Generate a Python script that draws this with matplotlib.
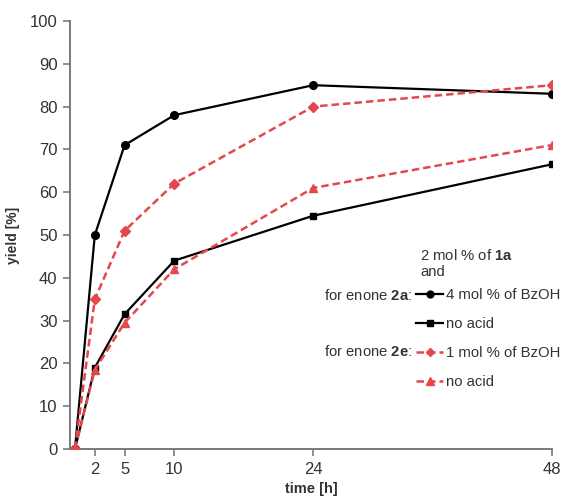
import matplotlib
matplotlib.use("Agg")
import matplotlib.pyplot as plt

plt.rcParams["font.family"] = ["Liberation Sans", "DejaVu Sans"]
plt.rcParams["mathtext.fontset"] = "custom"
plt.rcParams["mathtext.rm"] = "Liberation Sans"
plt.rcParams["mathtext.bf"] = "Liberation Sans:bold"

# data
time_h = [0, 2, 5, 10, 24, 48]
yield_2a_bzoh = [0, 50, 71, 78, 85, 83]
yield_2a_none = [0, 19, 31.5, 44, 54.5, 66.5]
yield_2e_bzoh = [0, 35, 51, 62, 80, 85]
yield_2e_none = [0, 18.5, 29.5, 42, 61, 71]

x_ticks = [2, 5, 10, 24, 48]
y_ticks = list(range(0, 101, 10))
legend_labels = ["4 mol % of BzOH", "no acid", "1 mol % of BzOH", "no acid"]

RED = "#e4474c"
AXIS_GRAY = "#7a7a7a"
TEXT = "#333333"

fig = plt.figure(figsize=(5.66, 4.99), dpi=100)
ax = fig.add_axes([70 / 566, 50 / 499, 482 / 566, 428 / 499])

l1, = ax.plot(time_h, yield_2a_bzoh, color="black", lw=1.6, marker="o", ms=5.5, zorder=3)
l2, = ax.plot(time_h, yield_2a_none, color="black", lw=1.6, marker="s", ms=5, zorder=3)
l3, = ax.plot(time_h, yield_2e_bzoh, color=RED, lw=1.8, ls=(0, (3, 1.6)), marker="D", ms=5, zorder=4)
l4, = ax.plot(time_h, yield_2e_none, color=RED, lw=1.8, ls=(0, (3, 1.6)), marker="^", ms=6, zorder=4)

ax.set_xlim(-0.5, 48.05)
ax.set_ylim(0, 100)
ax.set_xticks(x_ticks)
ax.set_yticks(y_ticks)
ax.tick_params(axis="both", direction="out", length=5, width=1.2, color=AXIS_GRAY,
               labelsize=12, labelcolor=TEXT, pad=4)
for side in ["top", "right"]:
    ax.spines[side].set_visible(False)
for side in ["left", "bottom"]:
    ax.spines[side].set_color(AXIS_GRAY)
    ax.spines[side].set_linewidth(1.4)

ax.set_xlabel("time [h]", fontsize=10.5, fontweight="bold", color=TEXT, labelpad=4)
ax.set_ylabel("yield [%]", fontsize=10, fontweight="bold", color=TEXT, labelpad=7)

leg = ax.legend([l1, l2, l3, l4], legend_labels, loc="upper left",
                bbox_to_anchor=(416 / 566, (499 - 288) / 499),
                bbox_transform=fig.transFigure, frameon=False, fontsize=10.7,
                handlelength=1.85, handletextpad=0.2, labelspacing=1.02,
                borderpad=0, borderaxespad=0, markerscale=0.9)
for t in leg.get_texts():
    t.set_color(TEXT)

fig.text(420 / 566, 1 - 255 / 499, "2 mol % of $\\mathbf{1a}$", fontsize=10.7,
         color=TEXT, va="center", ha="left")
fig.text(420 / 566, 1 - 272 / 499, "and", fontsize=10.7, color=TEXT, va="center", ha="left")
fig.text(412 / 566, 1 - 295 / 499, "for enone $\\mathbf{2a}$:", fontsize=10.7,
         color=TEXT, va="center", ha="right")
fig.text(412 / 566, 1 - 352 / 499, "for enone $\\mathbf{2e}$:", fontsize=10.7,
         color=TEXT, va="center", ha="right")

fig.savefig("out.png", dpi=100)
